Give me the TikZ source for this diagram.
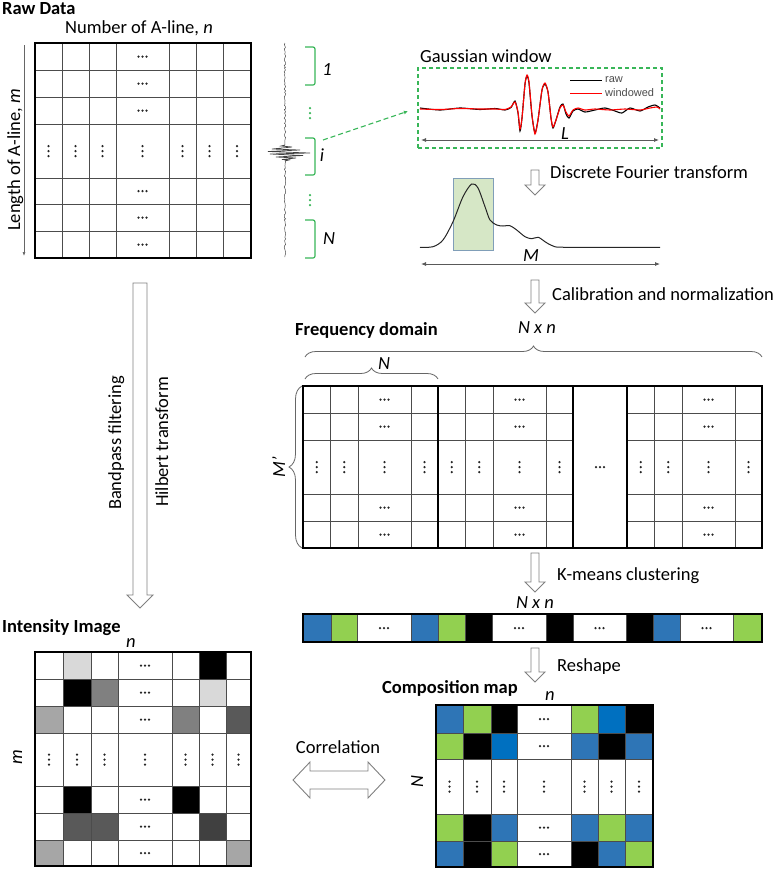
\documentclass[tikz,border=0pt]{standalone}
\usepackage{fontspec}
\setmainfont{Carlito}
\newfontfamily\legendfont{Liberation Sans}
\usetikzlibrary{calc,arrows.meta,decorations.pathreplacing,decorations.pathmorphing}
\definecolor{kblue}{RGB}{46,117,182}
\definecolor{kbright}{RGB}{0,112,192}
\definecolor{kgreen}{RGB}{146,208,80}
\definecolor{bgreen}{RGB}{56,182,88}
\definecolor{winfill}{RGB}{214,231,198}
\definecolor{winedge}{RGB}{128,158,184}
\definecolor{arrgray}{RGB}{128,128,128}
% hollow arrow pointing down: top, tip, half shaft, half head, head length
\newcommand{\blockdown}[5]{%
  \draw[blk]($(#1)+(-#3,0)$)--($(#2)+(-#3,-#5)$)--($(#2)+(-#4,-#5)$)--(#2)--($(#2)+(#4,-#5)$)--($(#2)+(#3,-#5)$)--($(#1)+(#3,0)$)--cycle;}
% three dots across / down at x,y
\newcommand{\hdt}[3][black!85]{\foreach \k in {-4,0,4}{\fill[#1](#2+\k,#3)circle(1.25pt);}}
\newcommand{\vdt}[3][black!85]{\foreach \k in {-5,0,5}{\fill[#1](#2,#3+\k)circle(1.25pt);}}
\begin{document}
\begin{tikzpicture}[x=1pt,y=-1pt]
    \tikzstyle{lab} = [inner sep=0,font=\fontsize{18.5}{21}\selectfont] %label
    \tikzstyle{hd} = [inner sep=0,font=\fontsize{18.5}{21}\selectfont\bfseries] %heading
    \tikzstyle{it} = [inner sep=0,font=\fontsize{18.5}{21}\selectfont\itshape] %italic label
    \tikzstyle{gl} = [line width=0.8pt,draw=black!70] %grid line
    \tikzstyle{fr} = [line width=1.8pt,draw=black] %frame
    \tikzstyle{blk} = [draw=arrgray,fill=white,line width=0.9pt,line join=miter] %hollow arrow
    \tikzstyle{dim} = [{Latex[length=5pt,width=4pt]}-{Latex[length=5pt,width=4pt]},draw=black!65,line width=0.8pt] %dimension line
    \tikzstyle{brc} = [decorate,decoration={brace,amplitude=11pt},draw=black!60,line width=0.8pt] %brace
    \tikzstyle{gbr} = [draw=bgreen,line width=1.2pt,rounded corners=2pt] %green bracket
    \useasboundingbox(0,0)rectangle(777,871);

    % raw data
    \node[hd,anchor=base west](rawt)at(2,14.5){Raw Data};
    \node[lab,anchor=base](ncol)at(139,33){Number of A-line, \textit{n}};
    \node[lab,anchor=base,rotate=90](mrow)at(20,160){Length of A-line, \textit{m}};
    \coordinate(ma)at(24,45);
    \coordinate(mb)at(24,256);
    \draw[-{Latex[length=4pt,width=3pt]},draw=black!60,line width=0.6pt](ma)--(mb);
    \foreach \x in {62,89,116,169,196,223}\draw[gl](\x,43)--(\x,258);
    \foreach \y in {70,97,124,178,204,231}\draw[gl](35,\y)--(251,\y);
    \draw[fr](35,43)rectangle(251,258);
    \foreach \y in {56.5,83.5,110.5,191,217.5,244.5}{\hdt{142.5}{\y}}
    \foreach \x in {48.5,75.5,102.5,142.5,182.5,209.5,237}{\vdt{\x}{151}}

    % one A-line
    \draw[decorate,decoration={random steps,segment length=1.6pt,amplitude=0.8pt},draw=black!70,line width=0.5pt](285,43)--(285,145);
    \draw[decorate,decoration={random steps,segment length=1.6pt,amplitude=0.8pt},draw=black!70,line width=0.5pt](285,161)--(285,257);
    \draw[draw=black!75,line width=0.7pt](285,145)--(281,146)--(292,147)--(272,149)--(300,150)--(268,151.5)--(310,153)--(270,154)--(303,155.5)--(276,157)--(296,158)--(282,159.5)--(289,160)--(285,161);
    \draw[gbr](305,47)--(315,47)--(315,85)--(305,85);
    \draw[gbr](305,138)--(315,138)--(315,175)--(305,175);
    \draw[gbr](305,220)--(315,220)--(315,258)--(305,258);
    \node[it,anchor=base](b1)at(327,75){1};
    \node[it,anchor=base](bi)at(322,161){i};
    \node[it,anchor=base](bn)at(329,244){N};
    \vdt[bgreen]{310}{113}
    \vdt[bgreen]{310}{200}

    % gaussian window
    \node[lab,anchor=base west](gwt)at(420,62){Gaussian window};
    \node[draw=bgreen,dash pattern=on 4pt off 3pt,line width=1.3pt,minimum width=244pt,minimum height=80pt,inner sep=0](gw)at(540,108){};
    \coordinate(ibr)at(323,140);
    \draw[draw=bgreen,dash pattern=on 5pt off 3pt,line width=1.1pt,-{Latex[length=4pt,width=4pt]},shorten >=10pt](ibr)--(gw.west);
    \draw[black,line width=1.1pt]plot[smooth,tension=0.4]coordinates{(420,108)(440,110)(460,108)(480,109.5)(495,108.5)(505,110)(511,107.5)(515,101)(518,113)(520,131)(522,118)(525,84)(527,76)(529,83)(532,116)(535,133)(538,120)(542,90)(545,84)(548,92)(551,118)(553,128)(556,120)(560,107)(563,104)(566,114)(569,118)(573,111)(578,109)(585,112)(595,110)(605,108)(615,111)(622,113)(630,108)(640,111)(648,107)(655,105)(660,108)};
    \draw[red,line width=1.1pt]plot[smooth,tension=0.4]coordinates{(420,109)(440,109.5)(460,108.5)(480,109)(495,109)(505,109.5)(511,107)(515,102)(518,112)(520,129)(522,118)(525,84)(527,75)(529,82)(532,115)(535,134)(538,120)(542,90)(545,83)(548,92)(551,118)(553,127)(556,120)(560,108)(563,105)(566,112)(569,116)(573,110)(578,108)(585,110)(595,109)(610,110)(625,109)(640,110)(650,108)(657,107)(660,109)};
    \draw[black,line width=1pt](570,80)--(602,80);
    \draw[red,line width=1pt](570,93)--(602,93);
    \node[inner sep=0,anchor=west,font=\legendfont\fontsize{11}{12}\selectfont,text=black!70](lraw)at(605,80){raw};
    \node[inner sep=0,anchor=west,font=\legendfont\fontsize{11}{12}\selectfont,text=black!70](lwin)at(605,93){windowed};
    \coordinate(la)at(421,140);
    \coordinate(lb)at(659,140);
    \draw[dim](la)--(lb);
    \node[it,anchor=base](ll)at(565,139){L};

    % spectrum
    \coordinate(dfa)at(535,170);
    \coordinate(dfb)at(535,195);
    \blockdown{dfa}{dfb}{4}{10}{10}
    \node[lab,anchor=base west](dft)at(550,178){Discrete Fourier transform};
    \node[draw=winedge,fill=winfill,line width=0.8pt,minimum width=40pt,minimum height=72pt,inner sep=0](win)at(473.3,214.5){};
    \draw[black!85,line width=1pt]plot[smooth,tension=0.5]coordinates{(420,247.3)(433,246.7)(443,240)(453,221.7)(463,196.7)(471.7,184)(478,188)(485,206.7)(490,220)(496.7,225)(503,226)(510,225.7)(516.7,230)(525,236.7)(531.7,238.7)(538.3,237.3)(545,241.7)(553,246)(566.7,247.3)(660,247.3)};
    \coordinate(sa)at(421,264);
    \coordinate(sb)at(660,264);
    \draw[dim](sa)--(sb);
    \node[it,anchor=base](sm)at(531,261){M};

    % calibration
    \coordinate(caa)at(535,280);
    \coordinate(cab)at(535,313);
    \blockdown{caa}{cab}{4}{10}{10}
    \node[lab,anchor=base west](cat)at(552,300){Calibration and normalization};

    % frequency domain
    \node[hd,anchor=base west](fdt)at(295,335){Frequency domain};
    \node[it,anchor=base](fnn)at(537,333){N x n};
    \draw[brc](305,357)--(762,357);
    \draw[brc](305,379)--(438,379);
    \node[it,anchor=base](fn)at(384,369){N};
    \draw[brc,decoration={brace,amplitude=13pt}](302,548)--(302,386);
    \node[it,anchor=base,rotate=90](fm)at(285,467){M’};
    \foreach \b in {303,438,627}{
      \foreach \d in {27.5,55,108}\draw[gl](\b+\d,386)--(\b+\d,548);
      \foreach \y in {413,440,494,521}\draw[gl](\b,\y)--(\b+135,\y);
      \foreach \y in {399.5,426.5,507.5,534.5}{\hdt{\b+81.5}{\y}}
      \foreach \d in {13.75,41.25,81.5,121.5}{\vdt{\b+\d}{467}}
    }
    \hdt{600}{467}
    \foreach \x in {438,573,627}\draw[fr](\x,386)--(\x,548);
    \draw[fr](303,386)rectangle(762,548);

    % k-means
    \coordinate(kma)at(535,553);
    \coordinate(kmb)at(535,592);
    \blockdown{kma}{kmb}{4}{10}{10}
    \node[lab,anchor=base west](kmt)at(557,580){K-means clustering};
    \node[it,anchor=base](knn)at(535,608){N x n};
    \foreach \a/\c/\col in {303/331/kblue,331/357/kgreen,411/438/kblue,438/465/kgreen,465/492/black,546/573/black,626/653/black,653/680/kblue,733/762/kgreen}\fill[\col](\a,614)rectangle(\c,642);
    \foreach \x in {331,357,411,438,465,492,546,573,626,653,680,733}\draw[gl](\x,614)--(\x,642);
    \draw[fr](303,614)rectangle(762,642);
    \foreach \x in {384,519,599.5,706.5}{\hdt{\x}{628}}

    % reshape
    \coordinate(rsa)at(535,648);
    \coordinate(rsb)at(535,682);
    \blockdown{rsa}{rsb}{4}{10}{10}
    \node[lab,anchor=base west](rst)at(557,671){Reshape};

    % composition map
    \node[hd,anchor=base west](cmt)at(382,693){Composition map};
    \node[it,anchor=base](cmn)at(550,700){n};
    \node[it,anchor=base,rotate=90](cmN)at(423,782){N};
    \foreach \y/\h/\ca/\cb/\cc/\cd/\ce/\cf in {705/28/kblue/kgreen/black/kgreen/kbright/black,733/26/kgreen/black/kbright/kblue/black/kblue,814/27/kgreen/black/kblue/kblue/kgreen/kblue,841/26/kblue/black/kgreen/black/kblue/kgreen}{
      \fill[\ca](436,\y)rectangle(463,\y+\h);
      \fill[\cb](463,\y)rectangle(491,\y+\h);
      \fill[\cc](491,\y)rectangle(517,\y+\h);
      \fill[\cd](571,\y)rectangle(598,\y+\h);
      \fill[\ce](598,\y)rectangle(625,\y+\h);
      \fill[\cf](625,\y)rectangle(653,\y+\h);
    }
    \foreach \x in {463,491,517,571,598,625}\draw[gl](\x,705)--(\x,867);
    \foreach \y in {733,759,814,841}\draw[gl](436,\y)--(653,\y);
    \draw[fr](436,705)rectangle(653,867);
    \foreach \y in {719,746,827.5,854}{\hdt{544}{\y}}
    \foreach \x in {449.5,477,504,544,584.5,611.5,639}{\vdt{\x}{786.5}}

    % bandpass and hilbert
    \coordinate(bpa)at(140,283);
    \coordinate(bpb)at(140,608);
    \blockdown{bpa}{bpb}{7}{13}{13}
    \node[lab,anchor=base,rotate=90](bpt)at(121,443){Bandpass filtering};
    \node[lab,anchor=base,rotate=90](hbt)at(168,442){Hilbert transform};

    % intensity image
    \node[hd,anchor=base west](iit)at(2,632){Intensity Image};
    \node[it,anchor=base](iin)at(131,647){n};
    \node[it,anchor=base,rotate=90](iim)at(22,757){m};
    \foreach \y/\h/\ca/\cb/\cc/\cd/\ce/\cf in {652/27/white/black!15/white/white/black/white,679/27/white/black/black!50/white/black!15/white,706/27/black!35/white/white/black!50/white/black!65,786/27/white/black/white/black/white/white,813/27/white/black!65/black!65/white/black!75/white,840/26/black!35/white/white/white/white/black!35}{
      \fill[\ca](35,\y)rectangle(63,\y+\h);
      \fill[\cb](63,\y)rectangle(91,\y+\h);
      \fill[\cc](91,\y)rectangle(118,\y+\h);
      \fill[\cd](172,\y)rectangle(199,\y+\h);
      \fill[\ce](199,\y)rectangle(226,\y+\h);
      \fill[\cf](226,\y)rectangle(251,\y+\h);
    }
    \foreach \x in {63,91,118,172,199,226}\draw[gl](\x,652)--(\x,866);
    \foreach \y in {679,706,733,786,813,840}\draw[gl](35,\y)--(251,\y);
    \draw[fr](35,652)rectangle(251,866);
    \foreach \y in {665.5,692.5,719.5,799.5,826.5,853}{\hdt{145}{\y}}
    \foreach \x in {49,77,104.5,145,185.5,212.5,238.5}{\vdt{\x}{759.5}}

    % correlation
    \node[lab,anchor=base](crt)at(338,753){Correlation};
    \coordinate(ca)at(293,780);
    \coordinate(cb)at(385,780);
    \draw[blk](ca)--($(ca)+(17,-18)$)--($(ca)+(17,-9)$)--($(cb)+(-17,-9)$)--($(cb)+(-17,-18)$)--(cb)--($(cb)+(-17,18)$)--($(cb)+(-17,9)$)--($(ca)+(17,9)$)--($(ca)+(17,18)$)--cycle;
\end{tikzpicture}
\end{document}
